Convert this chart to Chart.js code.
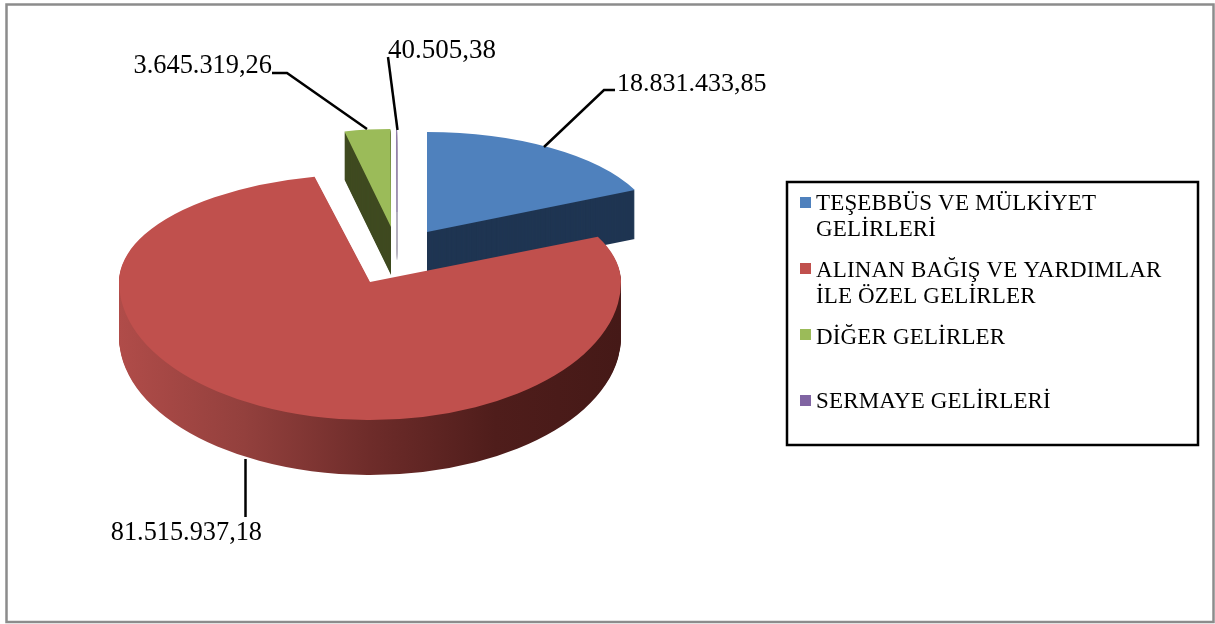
<!DOCTYPE html>
<html>
<head>
<meta charset="utf-8">
<style>
html,body{margin:0;padding:0;background:#fff;overflow:hidden}
canvas{display:block}
</style>
<script src="https://cdn.jsdelivr.net/npm/chart.js@4"></script>
</head>
<body>
<canvas id="pie" width="1215" height="624"></canvas>
<script>
var categories=["TEŞEBBÜS VE MÜLKİYET GELİRLERİ","ALINAN BAĞIŞ VE YARDIMLAR İLE ÖZEL GELİRLER","DİĞER GELİRLER","SERMAYE GELİRLERİ"];
var values=[18831433.85,81515937.18,3645319.26,40505.38];
var valueLabels=["18.831.433,85","81.515.937,18","3.645.319,26","40.505,38"];
var colors=["#4f81bd","#c0504d","#9bbb59","#8064a2"];
var sideColors=["#1f3552",null,"#3f4a20","#b4b1bd"];

// where each exploded slice sits on the page, and how much it is squashed to look tilted
var R=100;
var slices=[
  {cx:427,cy:232,rx:229,top:100,bottom:100,depth:49},
  {cx:370,cy:282,rx:251,top:108,bottom:138,depth:55},
  {cx:391,cy:227,rx:211,top:98,bottom:98,depth:48},
  {cx:397,cy:212,rx:211,top:82,bottom:82,depth:48}
];
var drawOrder=[0,2,3,1];

var legendRows=[
  {box:197,lines:[["TEŞEBBÜS VE MÜLKİYET",210],["GELİRLERİ",236]]},
  {box:263,lines:[["ALINAN BAĞIŞ VE YARDIMLAR",277],["İLE ÖZEL GELİRLER",303]]},
  {box:329,lines:[["DİĞER GELİRLER",344]]},
  {box:395,lines:[["SERMAYE GELİRLERİ",408]]}
];
var leaders=[
  {pts:[[544,147],[604,90],[615,90]],x:617,y:91,align:"left",size:26},
  {pts:[[245.5,459],[245.5,517]],x:262,y:540,align:"right",size:26.3},
  {pts:[[367,129],[287,73],[272,73]],x:272,y:73,align:"right",size:26.4},
  {pts:[[397.5,130],[388,57]],x:388,y:58,align:"left",size:27}
];

function drawPiece(ctx,arc,s,shift,fromY,toY,ry){
  ctx.save();
  ctx.beginPath();
  ctx.rect(0,fromY,1215,toY-fromY);
  ctx.clip();
  ctx.translate(s.cx,s.cy+shift);
  ctx.scale(s.rx/R,ry/R);
  ctx.translate(-arc.x,-arc.y);
  arc.draw(ctx);
  ctx.restore();
}

// upper and lower half get their own height, the far side of the pie looks shorter
function drawSlice(ctx,arc,s,shift){
  var mid=s.cy+shift;
  drawPiece(ctx,arc,s,shift,0,mid,s.top);
  drawPiece(ctx,arc,s,shift,mid,624,s.bottom);
}

var tiltPlugin={
  id:"tilt",
  beforeDatasetsDraw:function(chart){
    var ctx=chart.ctx;
    var meta=chart.getDatasetMeta(0);
    drawOrder.forEach(function(i){
      var arc=meta.data[i];
      var s=slices[i];
      var topOptions=arc.options;
      var side=sideColors[i];
      if(!side){
        side=ctx.createLinearGradient(arc.x-R,0,arc.x+R,0);
        side.addColorStop(0,"#b04c49");
        side.addColorStop(0.25,"#93403d");
        side.addColorStop(0.5,"#6e2c2a");
        side.addColorStop(0.75,"#4f1d1b");
        side.addColorStop(1,"#451917");
      }
      arc.options=Object.assign({},topOptions,{backgroundColor:side,borderColor:side});
      for(var d=s.depth;d>0;d--){
        drawSlice(ctx,arc,s,d);
      }
      arc.options=topOptions;
      drawSlice(ctx,arc,s,0);
    });
    return false;
  },
  afterDraw:function(chart){
    var ctx=chart.ctx;
    ctx.save();
    // frame
    ctx.strokeStyle="#8c8c8c";
    ctx.lineWidth=2.5;
    ctx.strokeRect(6.5,4.5,1207,617.5);
    // leader lines and value labels
    ctx.strokeStyle="#000";
    ctx.lineWidth=2.5;
    ctx.fillStyle="#000";
    ctx.textBaseline="alphabetic";
    leaders.forEach(function(l,i){
      ctx.beginPath();
      l.pts.forEach(function(p,j){
        if(j===0) ctx.moveTo(p[0],p[1]); else ctx.lineTo(p[0],p[1]);
      });
      ctx.stroke();
      ctx.font=l.size+"px 'Liberation Serif'";
      ctx.textAlign=l.align;
      ctx.fillText(valueLabels[i],l.x,l.y);
    });
    // legend
    ctx.strokeRect(787,182,411,263);
    ctx.textAlign="left";
    ctx.font="23px 'Liberation Serif'";
    ctx.letterSpacing="0.15px";
    legendRows.forEach(function(row,i){
      ctx.fillStyle=colors[i];
      ctx.fillRect(800,row.box,11,11);
      ctx.fillStyle="#000";
      row.lines.forEach(function(line){
        ctx.fillText(line[0],816,line[1]);
      });
    });
    ctx.restore();
  }
};

new Chart(document.getElementById("pie"),{
  type:"pie",
  data:{
    labels:categories,
    datasets:[{
      data:values,
      backgroundColor:colors,
      borderColor:colors,
      borderWidth:[0,0,0,0.2]
    }]
  },
  options:{
    responsive:false,
    animation:false,
    radius:R,
    plugins:{legend:{display:false},tooltip:{enabled:false}}
  },
  plugins:[tiltPlugin]
});
</script>
</body>
</html>
